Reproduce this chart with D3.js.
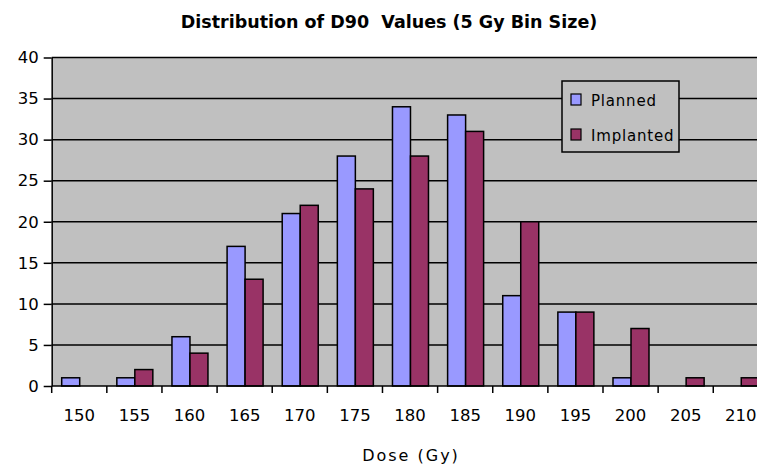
<!DOCTYPE html>
<html>
<head>
<meta charset="utf-8">
<script src="https://cdn.jsdelivr.net/npm/d3@7/dist/d3.min.js"></script>
<style>
  html, body { margin: 0; padding: 0; background: #ffffff; overflow: hidden; }
  svg { display: block; }
</style>
</head>
<body>
<svg id="chart" width="757" height="468"></svg>
<script>
const categories = ["150","155","160","165","170","175","180","185","190","195","200","205","210"];
const plannedValues   = [1, 1, 6, 17, 21, 28, 34, 33, 11, 9, 1, 0, 0];
const implantedValues = [0, 2, 4, 13, 22, 24, 28, 31, 20, 9, 7, 1, 1];
const seriesNames = ["Planned", "Implanted"];
const seriesColors = ["#9999ff", "#993366"];
const yTicks = [0, 5, 10, 15, 20, 25, 30, 35, 40];
const titleText = "Distribution of D90  Values (5 Gy Bin Size)";
const xTitle = "Dose (Gy)";

(function () {
const svg = d3.select("#chart");
const W = 757;
const mLeft = 51.7, mTop = 57.5, mBottom = 386;
const catW = 55.13;

const x = d3.scaleBand().domain(categories).range([mLeft, mLeft + catW * categories.length]).padding(0);
const xs = d3.scaleBand().domain(seriesNames).range([10, 46]).padding(0);
const y = d3.scaleLinear().domain([0, 40]).range([mBottom, mTop]);

svg.append("rect").attr("x", mLeft).attr("y", y(40)).attr("width", W - mLeft).attr("height", y(0) - y(40)).attr("fill", "#c0c0c0");

svg.append("g").selectAll("line").data(yTicks.filter(d => d > 0)).join("line")
  .attr("x1", mLeft).attr("x2", W).attr("y1", d => y(d)).attr("y2", d => y(d))
  .attr("stroke", "#000").attr("stroke-width", 1.5);

const rows = categories.map((c, i) => ({ c, vals: [plannedValues[i], implantedValues[i]] }));
const groups = svg.append("g").selectAll("g").data(rows).join("g")
  .attr("transform", d => `translate(${x(d.c)},0)`);
groups.selectAll("rect").data(d => d.vals.map((v, j) => ({ v, s: seriesNames[j], j })).filter(e => e.v > 0)).join("rect")
  .attr("x", e => xs(e.s))
  .attr("width", xs.bandwidth())
  .attr("y", e => y(e.v))
  .attr("height", e => y(0) - y(e.v))
  .attr("fill", e => seriesColors[e.j])
  .attr("stroke", "#000").attr("stroke-width", 1.5);

const yAxis = d3.axisLeft(y).tickValues(yTicks).tickSize(8).tickSizeOuter(0).tickPadding(5);
const gy = svg.append("g").attr("transform", `translate(${mLeft},0)`).call(yAxis);
gy.select(".domain").attr("stroke", "#000").attr("stroke-width", 1.5);
gy.selectAll(".tick line").attr("stroke", "#000").attr("stroke-width", 1.5);
gy.selectAll(".tick text").attr("font-family", "DejaVu Sans, sans-serif").attr("font-size", 16.5).attr("fill", "#000");

const xAxis = d3.axisBottom(x).tickSize(0).tickSizeOuter(0).tickPadding(23);
const gx = svg.append("g").attr("transform", `translate(0,${mBottom})`).call(xAxis);
gx.select(".domain").remove();
gx.selectAll(".tick text").attr("font-family", "DejaVu Sans, sans-serif").attr("font-size", 16.5).attr("fill", "#000");
svg.append("line").attr("x1", mLeft).attr("x2", W).attr("y1", mBottom).attr("y2", mBottom).attr("stroke", "#000").attr("stroke-width", 1.5);
svg.append("g").selectAll("line").data(categories).join("line")
  .attr("x1", d => x(d)).attr("x2", d => x(d))
  .attr("y1", mBottom).attr("y2", mBottom + 7)
  .attr("stroke", "#000").attr("stroke-width", 1.5);

svg.append("text").attr("x", 389).attr("y", 28).attr("text-anchor", "middle")
  .attr("font-family", "DejaVu Sans, sans-serif").attr("font-weight", "bold").attr("font-size", 17.5)
  .style("white-space", "pre")
  .attr("fill", "#000").text(titleText);

svg.append("text").attr("x", 411).attr("y", 461).attr("text-anchor", "middle")
  .attr("font-family", "DejaVu Sans, sans-serif").attr("font-size", 16).attr("letter-spacing", 2)
  .attr("fill", "#000").text(xTitle);

const lg = svg.append("g").attr("transform", "translate(562,81)");
lg.append("rect").attr("width", 117).attr("height", 71).attr("fill", "#c0c0c0").attr("stroke", "#000").attr("stroke-width", 1.5);
const items = lg.selectAll("g").data(seriesNames).join("g").attr("transform", (d, i) => `translate(0,${19 + i * 35})`);
items.append("rect").attr("x", 9).attr("y", -6).attr("width", 10).attr("height", 11)
  .attr("fill", (d, i) => seriesColors[i]).attr("stroke", "#000").attr("stroke-width", 1.2);
items.append("text").attr("x", 29).attr("y", 6).attr("font-family", "DejaVu Sans, sans-serif").attr("font-size", 15)
  .attr("letter-spacing", 0.8)
  .attr("fill", "#000").text(d => d);
})();
</script>
</body>
</html>
